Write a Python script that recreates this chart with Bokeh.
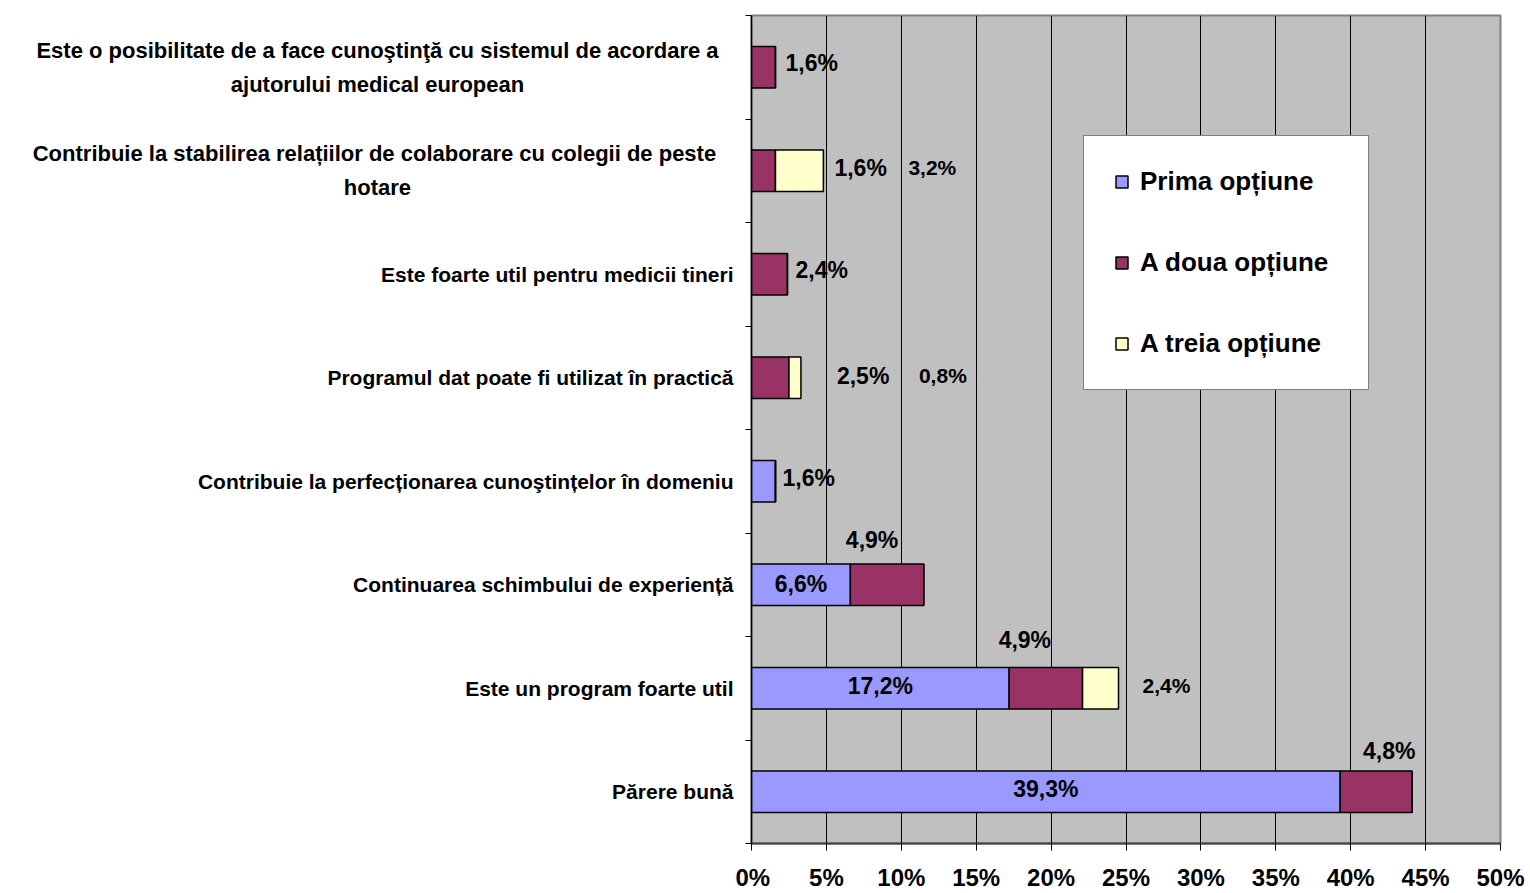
from bokeh.plotting import figure
from bokeh.layouts import row
from bokeh.models import (ColumnDataSource, Range1d, FixedTicker,
                          PrintfTickFormatter)
from bokeh.embed import file_html
from bokeh.resources import INLINE
from bokeh.core.properties import value

# ---------------- data (categories listed top to bottom) ----------------
categories = [
    "Este o posibilitate de a face cunoştinţă cu sistemul de acordare a\najutorului medical european",
    "Contribuie la  stabilirea relațiilor de colaborare cu colegii de peste\nhotare",
    "Este foarte util pentru medicii tineri",
    "Programul dat poate fi utilizat în practică",
    "Contribuie la perfecționarea cunoştințelor în domeniu",
    "Continuarea schimbului de experiență",
    "Este un program foarte util",
    "Părere bună",
]
prima = [0, 0, 0, 0, 1.6, 6.6, 17.2, 39.3]
a_doua = [1.6, 1.6, 2.4, 2.5, 0, 4.9, 4.9, 4.8]
a_treia = [0, 3.2, 0, 0.8, 0, 0, 2.4, 0]
series_names = ["Prima opțiune", "A doua opțiune", "A treia opțiune"]
x_ticks = [0, 5, 10, 15, 20, 25, 30, 35, 40, 45, 50]

# ---------------- layout / style ----------------
FONT = "Liberation Sans"
colors = ["#9999FF", "#993366", "#FFFFCC"]
LEFT_W, GAP, FRAME_W, RIGHT_B = 735, 16, 749, 28
H, TOP_B, BOT_B = 893, 15, 48

# label placement per (series index, category index): mode, x offset px, y offset px
placement = {
    (1, 0): ("right", 10, -4),
    (1, 1): ("right", 11, -3),
    (2, 1): ("right", 85, -3),
    (1, 2): ("right", 8, -4),
    (1, 3): ("right", 36, -2),
    (2, 3): ("right", 118, -2),
    (0, 4): ("right", 7, -3),
    (0, 5): ("inside", 0, -1),
    (1, 5): ("above", -15, -45),
    (0, 6): ("inside", 0, -2),
    (1, 6): ("above", -21, -48),
    (2, 6): ("right", 24, -3),
    (0, 7): ("inside", 0, -3),
    (1, 7): ("above", 13, -41),
}

n = len(categories)
# category slot centres on the value axis (first category on top)
ypos = [n - i - 0.5 for i in range(n)]
y_range = Range1d(0, n)

p = figure(width=GAP + FRAME_W + RIGHT_B, height=H, x_range=Range1d(0, 50), y_range=y_range,
           toolbar_location=None, output_backend="svg",
           min_border_left=GAP, min_border_right=RIGHT_B,
           min_border_top=TOP_B, min_border_bottom=BOT_B,
           background_fill_color="#C0C0C0", border_fill_color="white",
           outline_line_color="#808080", outline_line_width=2)

# category axis: ticks on the boundaries between categories (Excel style)
bticks = list(range(n + 1))
p.yaxis.ticker = FixedTicker(ticks=bticks)
p.yaxis.major_label_overrides = {t: "" for t in bticks}
p.yaxis.major_label_text_font_size = "0px"
p.yaxis.major_label_standoff = 0
p.yaxis.major_tick_out = 6
p.yaxis.major_tick_in = 0
p.yaxis.minor_tick_line_color = None
p.yaxis.axis_line_color = "black"
p.yaxis.axis_line_width = 1.5
p.yaxis.major_tick_line_color = "black"
p.ygrid.visible = False

p.xaxis.ticker = FixedTicker(ticks=x_ticks)
p.xaxis.formatter = PrintfTickFormatter(format="%d%%")
p.xaxis.major_label_text_font = FONT
p.xaxis.major_label_text_font_style = "bold"
p.xaxis.major_label_text_font_size = "24px"
p.xaxis.major_label_text_color = "black"
p.xaxis.axis_line_color = "#404040"
p.xaxis.axis_line_width = 2
p.xaxis.major_tick_line_color = "black"
p.xaxis.major_tick_out = 7
p.xaxis.major_tick_in = 0
p.xaxis.minor_tick_line_color = None
p.xaxis.major_label_standoff = 13

p.xgrid.ticker = FixedTicker(ticks=x_ticks[1:-1])
p.xgrid.grid_line_color = "black"
p.xgrid.grid_line_width = 1

source = ColumnDataSource(dict(y=ypos, cat=categories, prima=prima, doua=a_doua, treia=a_treia))
p.hbar_stack(["prima", "doua", "treia"], y="y", height=0.4, fill_color=colors,
             line_color="black", line_width=1.5, source=source, legend_label=series_names)

leg = p.legend[0]
leg.location = (332, 453)
leg.padding = 30
leg.spacing = 50
leg.margin = 0
leg.label_height = 28
leg.label_width = 198
leg.glyph_height = 15
leg.glyph_width = 15
leg.label_standoff = 11
leg.border_line_color = "black"
leg.border_line_width = 1
leg.background_fill_color = "white"
leg.background_fill_alpha = 1
leg.label_text_font = FONT
leg.label_text_font_style = "bold"
leg.label_text_font_size = "26px"
leg.label_text_color = "black"

# data labels
series = [prima, a_doua, a_treia]
groups = {}
for (s, i), (mode, dx, dy) in placement.items():
    v = series[s][i]
    start = sum(series[k][i] for k in range(s))
    total = sum(series[k][i] for k in range(len(series)))
    if mode == "right":
        x, align = total, "left"
    else:
        x, align = start + v / 2, "center"
    size = "21px" if s == 2 else "23px"
    g = groups.setdefault((align, size), dict(x=[], y=[], text=[], xo=[], yo=[]))
    g["x"].append(x)
    g["y"].append(ypos[i])
    g["text"].append(f"{v:.1f}".replace(".", ",") + "%")
    g["xo"].append(dx)
    g["yo"].append(dy)

for (align, size), g in groups.items():
    p.text(x="x", y="y", text="text", x_offset="xo", y_offset="yo",
           source=ColumnDataSource(g), text_align=align, text_baseline="middle",
           text_font=value(FONT), text_font_style="bold",
           text_font_size=value(size), text_color="black")

# left panel with category labels
left = figure(width=LEFT_W, height=H, x_range=Range1d(0, LEFT_W), y_range=y_range,
              x_axis_location=None, y_axis_location=None, toolbar_location=None,
              output_backend="svg", min_border_left=0, min_border_right=0,
              min_border_top=TOP_B, min_border_bottom=BOT_B,
              outline_line_color=None, background_fill_color="white")
left.grid.grid_line_color = None

single = [i for i, c in enumerate(categories) if "\n" not in c]
multi = [i for i, c in enumerate(categories) if "\n" in c]
left.text(x=[LEFT_W - 2] * len(single), y=[ypos[i] for i in single],
          text=[categories[i] for i in single], text_align="right",
          text_baseline="middle", text_font=value(FONT), text_font_style="bold",
          text_font_size=value("21px"), text_color="black")
left.text(x=[377] * len(multi), y=[ypos[i] for i in multi],
          text=[categories[i] for i in multi], text_align="center",
          text_baseline="middle", text_line_height=1.35, text_font=value(FONT),
          text_font_style="bold", text_font_size=value("22px"), text_color="black")

layout = row(left, p)
open("out.html", "w").write(file_html(layout, INLINE))
